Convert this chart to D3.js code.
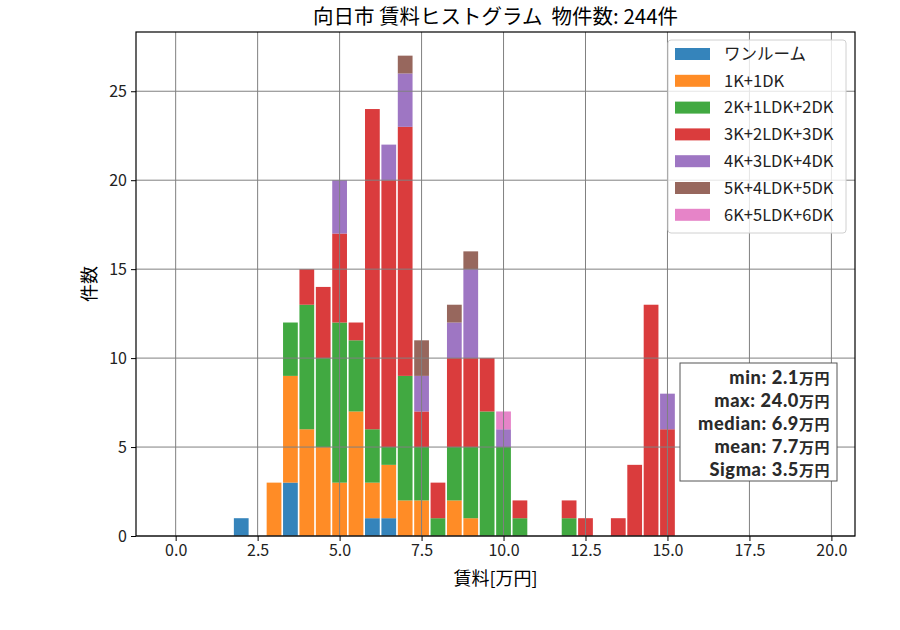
<!DOCTYPE html>
<html>
<head>
<meta charset="utf-8">
<script src="https://cdn.jsdelivr.net/npm/d3@7"></script>
<style>
  body { margin: 0; background: #fff; }
  #wrap { position: relative; width: 900px; height: 630px; }
  svg { font-family: "Noto Sans CJK JP", "Noto Sans", sans-serif; display: block; }
  #stats {
    position: absolute; left: 680px; top: 366px; width: 150px;
    text-align: right; font-family: Lato, "Noto Sans CJK JP", sans-serif;
    font-weight: 900; font-size: 18.2px; line-height: 22px; color: #2a2a2a;
    letter-spacing: 0.6px;
  }
  #stats .cjk { font-family: "Noto Sans CJK JP", sans-serif; font-weight: bold; font-size: 15px; letter-spacing: 0.5px; }
</style>
</head>
<body>
<div id="wrap">
<svg width="900" height="630"></svg>
<div id="stats"></div>
</div>
<script>
// bin centers (万円), each bin is 0.5 wide
const binCenters = [2.0, 3.0, 3.5, 4.0, 4.5, 5.0, 5.5, 6.0, 6.5, 7.0, 7.5, 8.0, 8.5, 9.0, 9.5, 10.0, 10.5, 12.0, 12.5, 13.5, 14.0, 14.5, 15.0];

// counts per layout type, same order as binCenters
const oneRoom = [1, 0, 3, 0, 0, 0, 0, 1, 1, 0, 0, 0, 0, 0, 0, 0, 0, 0, 0, 0, 0, 0, 0];
const k1dk    = [0, 3, 6, 6, 5, 3, 7, 2, 3, 2, 2, 0, 2, 1, 0, 0, 0, 0, 0, 0, 0, 0, 0];
const k2ldk   = [0, 0, 3, 7, 5, 9, 4, 3, 1, 7, 3, 1, 3, 4, 7, 5, 1, 1, 0, 0, 0, 0, 0];
const k3ldk   = [0, 0, 0, 2, 4, 5, 1, 18, 15, 14, 2, 2, 5, 5, 3, 0, 1, 1, 1, 1, 4, 13, 6];
const k4ldk   = [0, 0, 0, 0, 0, 3, 0, 0, 2, 3, 2, 0, 2, 5, 0, 1, 0, 0, 0, 0, 0, 0, 2];
const k5ldk   = [0, 0, 0, 0, 0, 0, 0, 0, 0, 1, 2, 0, 1, 1, 0, 0, 0, 0, 0, 0, 0, 0, 0];
const k6ldk   = [0, 0, 0, 0, 0, 0, 0, 0, 0, 0, 0, 0, 0, 0, 0, 1, 0, 0, 0, 0, 0, 0, 0];

const seriesNames = ["ワンルーム", "1K+1DK", "2K+1LDK+2DK", "3K+2LDK+3DK", "4K+3LDK+4DK", "5K+4LDK+5DK", "6K+5LDK+6DK"];
const seriesValues = [oneRoom, k1dk, k2ldk, k3ldk, k4ldk, k5ldk, k6ldk];
const seriesColors = ["#1f77b4", "#ff7f0e", "#2ca02c", "#d62728", "#9467bd", "#8c564b", "#e377c2"];

const xTicks = [0, 2.5, 5, 7.5, 10, 12.5, 15, 17.5, 20];
const yTicks = [0, 5, 10, 15, 20, 25];
const statLabels = ["min", "max", "median", "mean", "Sigma"];
const statValues = ["2.1", "24.0", "6.9", "7.7", "3.5"];
const statUnit = "万円";
const titleText = "向日市 賃料ヒストグラム  物件数: 244件";

const binWidth = 0.5;
const rwidth = 0.9;

const svg = d3.select("svg");
const margin = { top: 32, right: 45, bottom: 94, left: 136 };
const W = 900 - margin.left - margin.right;
const H = 630 - margin.top - margin.bottom;

const g = svg.append("g").attr("transform", `translate(${margin.left},${margin.top})`);

const x = d3.scaleLinear().domain([-1.21, 20.72]).range([0, W]);
const y = d3.scaleLinear().domain([0, 28.33]).range([H, 0]);

// build a table for d3.stack
const table = binCenters.map((c, i) => {
    const row = { center: c };
    seriesNames.forEach((n, j) => { row[n] = seriesValues[j][i]; });
    return row;
});
const stacked = d3.stack().keys(seriesNames)(table);

// bars
const layers = g.selectAll(".layer")
    .data(stacked)
    .enter().append("g")
    .attr("class", "layer")
    .attr("fill", (d, i) => seriesColors[i])
    .attr("fill-opacity", 0.9);

layers.selectAll("rect")
    .data(d => d.filter(p => p[1] > p[0]))
    .enter().append("rect")
    .attr("x", d => x(d.data.center - binWidth * rwidth / 2))
    .attr("width", d => x(binWidth * rwidth) - x(0))
    .attr("y", d => y(d[1]))
    .attr("height", d => y(d[0]) - y(d[1]));

// grid (drawn over the bars)
const grid = g.append("g").attr("class", "grid");
grid.selectAll(".gx").data(xTicks).enter().append("line")
    .attr("x1", d => x(d)).attr("x2", d => x(d))
    .attr("y1", 0).attr("y2", H)
    .attr("stroke", "#808080").attr("stroke-width", 1);
grid.selectAll(".gy").data(yTicks).enter().append("line")
    .attr("x1", 0).attr("x2", W)
    .attr("y1", d => y(d)).attr("y2", d => y(d))
    .attr("stroke", "#808080").attr("stroke-width", 1);

// axes
const xAxis = g.append("g")
    .attr("transform", `translate(0,${H})`)
    .call(d3.axisBottom(x).tickValues(xTicks).tickFormat(d3.format(".1f")).tickSize(5).tickPadding(4));
const yAxis = g.append("g")
    .call(d3.axisLeft(y).tickValues(yTicks).tickSize(5).tickPadding(4));
[xAxis, yAxis].forEach(a => {
    a.select(".domain").remove();
    a.selectAll("line").attr("stroke", "#000");
    a.selectAll("text").attr("font-size", 16).attr("fill", "#222")
        .attr("font-family", "'Noto Sans CJK JP', 'Noto Sans', sans-serif");
});

// frame
g.append("rect")
    .attr("width", W).attr("height", H)
    .attr("fill", "none").attr("stroke", "#000").attr("stroke-width", 1.2);

// title and labels
svg.append("text")
    .attr("x", margin.left + W / 2).attr("y", 24)
    .attr("text-anchor", "middle")
    .attr("font-size", 20.5)
    .style("white-space", "pre")
    .attr("fill", "#000")
    .text(titleText);

svg.append("text")
    .attr("x", margin.left + W / 2).attr("y", 585)
    .attr("text-anchor", "middle")
    .attr("font-size", 18)
    .text("賃料[万円]");

svg.append("text")
    .attr("transform", `translate(96,${margin.top + H / 2}) rotate(-90)`)
    .attr("text-anchor", "middle")
    .attr("font-size", 18)
    .text("件数");

// legend
const legend = svg.append("g").attr("transform", "translate(668,40)");
legend.append("rect")
    .attr("width", 178).attr("height", 193)
    .attr("rx", 3)
    .attr("fill", "#fff").attr("fill-opacity", 0.8)
    .attr("stroke", "#d0d0d0");
const items = legend.selectAll(".item")
    .data(seriesNames)
    .enter().append("g")
    .attr("transform", (d, i) => `translate(7,${14 + i * 26.8})`);
items.append("rect")
    .attr("y", -6).attr("width", 35).attr("height", 12)
    .attr("fill", (d, i) => seriesColors[i]).attr("fill-opacity", 0.9);
items.append("text")
    .attr("x", 49).attr("dy", "0.35em")
    .attr("font-size", 16.5)
    .attr("fill", "#222")
    .text(d => d);

// stats box: frame in svg, text as html lines with tight line height
svg.append("rect")
    .attr("x", 680).attr("y", 363)
    .attr("width", 157).attr("height", 118)
    .attr("fill", "#fff").attr("stroke", "#555");
const lines = d3.select("#stats").selectAll("div")
    .data(statLabels)
    .enter().append("div");
lines.append("span").text((d, i) => `${d}: ${statValues[i]}`);
lines.append("span").attr("class", "cjk").text(statUnit);
</script>
</body>
</html>
